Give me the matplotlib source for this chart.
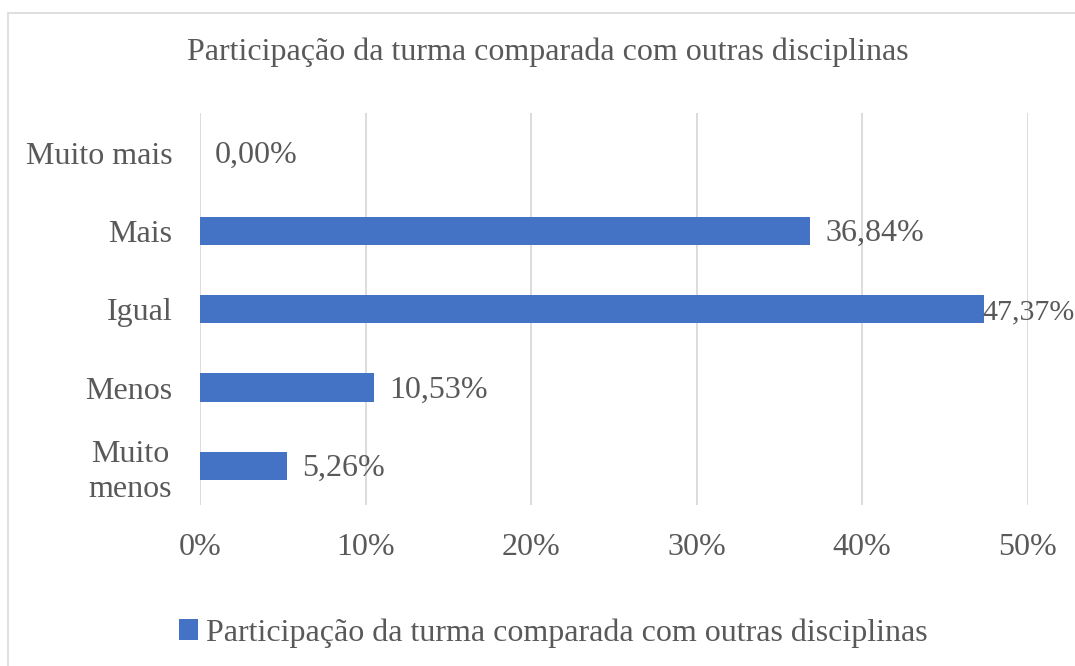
import matplotlib
matplotlib.use("Agg")
import matplotlib.pyplot as plt
from matplotlib.patches import Rectangle

# data (bottom to top, as drawn)
categories = ["Muito\nmenos", "Menos", "Igual", "Mais", "Muito mais"]
values = [5.26, 10.53, 47.37, 36.84, 0.00]
value_labels = ["5,26%", "10,53%", "47,37%", "36,84%", "0,00%"]
x_ticks = [0, 10, 20, 30, 40, 50]
x_tick_labels = ["0%", "10%", "20%", "30%", "40%", "50%"]
series_name = "Participação da turma comparada com outras disciplinas"

bar_color = "#4472C4"
text_color = "#595959"
grid_color = "#D9D9D9"
fs = 23

plt.rcParams['font.family'] = ['Liberation Serif', 'DejaVu Serif']

fig = plt.figure(figsize=(10.75, 6.66), dpi=100)
ax = fig.add_axes([0.186, 0.2417, 0.770, 0.588])

# chart border (only left and top show in the crop)
fig.patches.append(Rectangle((8 / 1075, -0.5), 1.5, 0.5 + 1 - 13 / 666,
                             transform=fig.transFigure, fill=False,
                             edgecolor=grid_color, linewidth=1.2))

ypos = list(range(len(categories)))
bars = ax.barh(ypos, values, height=0.36, color=bar_color,
               label=series_name, zorder=3)

# data labels (the longest one is squeezed against its bar, as Excel does)
for y, v, lab in zip(ypos, values, value_labels):
    if v > 45:
        off, size = -1.5, fs - 1.5
    else:
        off, size = 11, fs
    ax.annotate(lab, xy=(v, y), xytext=(off, -2), textcoords='offset points',
                ha='left', va='center', fontsize=size, color=text_color,
                annotation_clip=False)

ax.set_xlim(0, 50)
ax.set_ylim(-0.5, len(categories) - 0.5)
ax.set_xticks(x_ticks)
ax.set_xticklabels(x_tick_labels)
ax.set_yticks(ypos)
ax.set_yticklabels(categories, multialignment='center', linespacing=1.25)
ax.tick_params(axis='both', length=0, labelsize=fs, labelcolor=text_color)
ax.tick_params(axis='x', pad=20)
ax.tick_params(axis='y', pad=20)
ax.grid(axis='x', color=grid_color, linewidth=1.3, zorder=0)
for s in ax.spines.values():
    s.set_visible(False)

fig.text(548 / 1075, 1 - 52 / 666, series_name, ha='center', va='center',
         fontsize=fs, color=text_color)

ax.legend(loc='center', bbox_to_anchor=(553 / 1075, 1 - 633 / 666),
          bbox_transform=fig.transFigure, frameon=False, fontsize=fs,
          labelcolor=text_color, handlelength=0.6, handleheight=0.6,
          handletextpad=0.25)

fig.savefig("out.png", dpi=100)
